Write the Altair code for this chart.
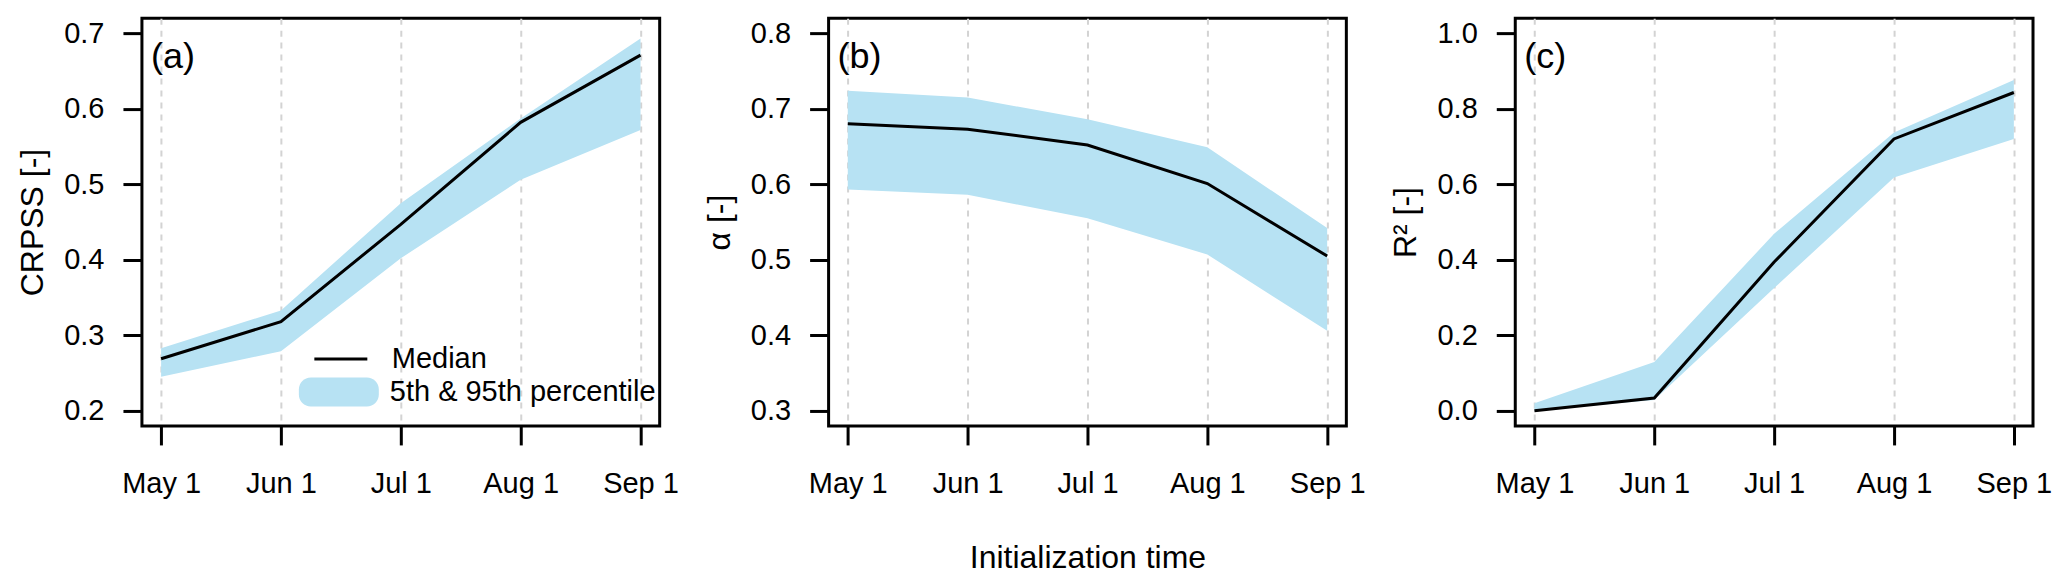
import altair as alt
import pandas as pd

FONT = "Liberation Sans"
BAND = "#b7e2f3"

months = ["May 1", "Jun 1", "Jul 1", "Aug 1", "Sep 1"]

crpss_median = [0.269, 0.318, 0.447, 0.582, 0.671]
crpss_p95 = [0.283, 0.333, 0.475, 0.587, 0.693]
crpss_p5 = [0.245, 0.279, 0.402, 0.506, 0.572]

alpha_median = [0.680, 0.673, 0.652, 0.601, 0.505]
alpha_p95 = [0.724, 0.715, 0.686, 0.649, 0.542]
alpha_p5 = [0.593, 0.586, 0.555, 0.507, 0.406]

r2_median = [0.000, 0.034, 0.394, 0.720, 0.843]
r2_p95 = [0.020, 0.129, 0.469, 0.737, 0.876]
r2_p5 = [0.000, 0.029, 0.325, 0.618, 0.720]

panel_labels = ["(a)", "(b)", "(c)"]
y_titles = ["CRPSS [-]", "α [-]", "R² [-]"]
y_ticks = [
    [0.2, 0.3, 0.4, 0.5, 0.6, 0.7],
    [0.3, 0.4, 0.5, 0.6, 0.7, 0.8],
    [0.0, 0.2, 0.4, 0.6, 0.8, 1.0],
]
y_domains = [[0.18, 0.72], [0.28, 0.82], [-0.04, 1.04]]

legend_line_label = "Median"
legend_band_label = "5th & 95th percentile"

PILL = ("M -0.7,-0.3625 H 0.7 A 0.3,0.3 0 0 1 1,-0.0625 V 0.0625 "
        "A 0.3,0.3 0 0 1 0.7,0.3625 H -0.7 A 0.3,0.3 0 0 1 -1,0.0625 "
        "V -0.0625 A 0.3,0.3 0 0 1 -0.7,-0.3625 Z")


def panel(i, med, hi, lo):
    df = pd.DataFrame({
        "month": months,
        "median": med,
        "hi": hi,
        "lo": lo,
        "band": legend_band_label,
        "line": legend_line_label,
    })
    show_legend = i == 0
    xaxis = alt.Axis(
        title="Initialization time" if i == 1 else None,
        labelAngle=0,
        grid=True,
        titlePadding=44,
        labelPadding=25,
    )
    x = alt.X("month:N", sort=months,
              scale=alt.Scale(type="point", padding=0.16), axis=xaxis)
    yaxis = alt.Axis(values=y_ticks[i], format=".1f", title=y_titles[i],
                     titlePadding=14, labelPadding=19, grid=False)
    yscale = alt.Scale(domain=y_domains[i], nice=False, zero=False)

    if show_legend:
        fill_legend = alt.Legend(
            orient="none", legendX=157, legendY=334, title=None,
            symbolType=PILL, symbolSize=6400, symbolStrokeWidth=0,
            symbolOpacity=1, labelFontSize=29, labelFont=FONT,
            labelColor="black", labelOffset=11, padding=0, labelLimit=600,
        )
        stroke_legend = alt.Legend(
            orient="none", legendX=171, legendY=313, title=None,
            symbolType="stroke", symbolSize=2809, symbolStrokeWidth=3,
            labelFontSize=29, labelFont=FONT, labelColor="black",
            labelOffset=23, padding=0, labelLimit=600,
        )
    else:
        fill_legend = None
        stroke_legend = None

    base = alt.Chart(df)
    area = base.mark_area(opacity=1).encode(
        x=x,
        y=alt.Y("lo:Q", scale=yscale, axis=yaxis),
        y2="hi:Q",
        fill=alt.Fill("band:N", scale=alt.Scale(domain=[legend_band_label], range=[BAND]),
                      legend=fill_legend),
    )
    line = base.mark_line(strokeWidth=3).encode(
        x=x,
        y=alt.Y("median:Q", scale=yscale, axis=yaxis),
        stroke=alt.Stroke("line:N", scale=alt.Scale(domain=[legend_line_label], range=["black"]),
                          legend=stroke_legend),
    )
    lab = alt.Chart(pd.DataFrame({"label": [panel_labels[i]]})).mark_text(
        align="left", baseline="alphabetic", fontSize=36, font=FONT, color="black"
    ).encode(x=alt.value(9), y=alt.value(50), text="label:N")

    return alt.layer(area, line, lab).properties(width=518, height=408)


chart = alt.hconcat(
    panel(0, crpss_median, crpss_p95, crpss_p5),
    panel(1, alpha_median, alpha_p95, alpha_p5),
    panel(2, r2_median, r2_p95, r2_p5),
    spacing=169,
    bounds="flush",
).resolve_scale(
    x="independent", y="independent", fill="independent", stroke="independent"
).properties(
    padding={"left": 7, "top": 8, "right": 5, "bottom": 5},
    background="white",
).configure_view(
    stroke="black", strokeWidth=3
).configure_axis(
    labelFont=FONT, titleFont=FONT, labelFontSize=29, titleFontSize=32,
    titleFontWeight="normal", labelColor="black", titleColor="black",
    tickColor="black", tickWidth=3, tickSize=19, domain=False,
    gridColor="#d3d3d3", gridDash=[6, 6], gridWidth=2,
)

chart.save("out.html", embed_options={"renderer": "svg", "actions": False})
